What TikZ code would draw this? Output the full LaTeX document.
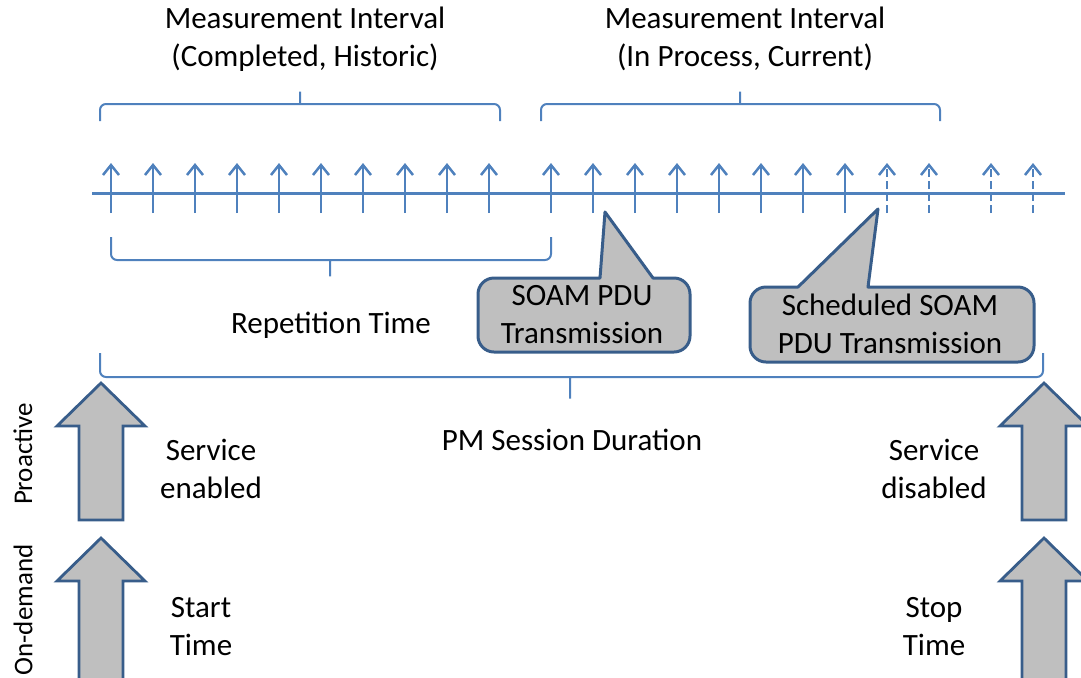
\documentclass[tikz,border=0pt]{standalone}
\usepackage{fontspec}
\setmainfont{Carlito}
\usetikzlibrary{arrows.meta}

\definecolor{lineblue}{RGB}{79,129,189}
\definecolor{edgeblue}{RGB}{56,93,138}
\definecolor{shapegray}{RGB}{191,191,191}

\tikzset{
    timeline/.style={draw=lineblue,line width=1.5pt},
    pulse/.style={draw=lineblue,line width=1.25pt,-{Straight Barb[length=5pt,width=8pt]}},
    schedpulse/.style={pulse,dash pattern=on 4pt off 2pt},
    bracket/.style={draw=lineblue,line width=1pt,rounded corners=3pt},
    bigarrow/.style={draw=edgeblue,fill=shapegray,line width=1.4pt},
    callout/.style={draw=edgeblue,fill=shapegray,line width=1.5pt,line join=round},
    lbl/.style={align=center,inner sep=0pt,font=\fontsize{15.5}{19}\selectfont},
    modelbl/.style={lbl,rotate=90,font=\fontsize{13.5}{16}\selectfont},
}

\begin{document}
\begin{tikzpicture}[x=0.5pt,y=-0.5pt]
    \useasboundingbox (0,0) rectangle (1081,677);
    \clip (0,0) rectangle (1081,677);

    % time axis with the SOAM PDU pulses
    \draw[timeline] (92,193) -- (1065,193);
    \foreach \x in {111,153,...,489,551,593,...,845}
        \draw[pulse] (\x,213) -- (\x,163);
    \foreach \x in {887,929,991,1033}
        \draw[schedpulse] (\x,213) -- (\x,163);

    % measurement intervals
    \draw[bracket] (100,121) -- (100,104) -- (294,104) .. controls (300,104) .. (300,88)
        .. controls (300,104) .. (306,104) -- (500,104) -- (500,121);
    \draw[bracket] (541,121) -- (541,104) -- (734,104) .. controls (740,104) .. (740,88)
        .. controls (740,104) .. (746,104) -- (940,104) -- (940,121);
    \node[lbl] (histmi) at (305,39) {Measurement Interval\\(Completed, Historic)};
    \node[lbl] (curmi) at (745,39) {Measurement Interval\\(In Process, Current)};

    % repetition time and session duration
    \draw[bracket] (111,237) -- (111,260) -- (324,260) .. controls (330,260) .. (330,280)
        .. controls (330,260) .. (336,260) -- (551,260) -- (551,237);
    \draw[bracket] (100,353) -- (100,377) -- (564,377) .. controls (570,377) .. (570,402)
        .. controls (570,377) .. (576,377) -- (1043,377) -- (1043,353);
    \node[lbl] (reptime) at (331,325) {Repetition Time};
    \node[lbl] (pmdur) at (572,440) {PM Session Duration};

    % callouts
    \draw[callout] (653,278) [rounded corners=8pt] -- (690,278) -- (690,352) -- (478,352)
        -- (478,278) [sharp corners] -- (600,278) -- (605,212) -- cycle;
    \node[lbl] (soampdu) at (582,315) {SOAM PDU\\Transmission};
    \draw[callout] (868,287) [rounded corners=8pt] -- (1034,287) -- (1034,362) -- (750,362)
        -- (750,287) [sharp corners] -- (798,287) -- (878,209) -- cycle;
    \node[lbl] (schedpdu) at (890,324) {Scheduled SOAM\\PDU Transmission};

    % start and stop of the session
    \foreach \x in {101,1044} {
        \draw[bigarrow] (\x,383) -- ++(44,43) -- ++(-22,0) -- ++(0,94) -- ++(-44,0)
            -- ++(0,-94) -- ++(-22,0) -- cycle;
        \draw[bigarrow] (\x,538) -- ++(44,43) -- ++(-22,0) -- ++(0,110) -- ++(-44,0)
            -- ++(0,-110) -- ++(-22,0) -- cycle;
    }
    \node[lbl] (svcon) at (211,469) {Service\\enabled};
    \node[lbl] (tstart) at (201,627) {Start\\Time};
    \node[lbl] (svcoff) at (934,469) {Service\\disabled};
    \node[lbl] (tstop) at (934,627) {Stop\\Time};
    \node[modelbl] (proact) at (23,454) {Proactive};
    \node[modelbl] (ondem) at (23,610) {On-demand};
\end{tikzpicture}
\end{document}
